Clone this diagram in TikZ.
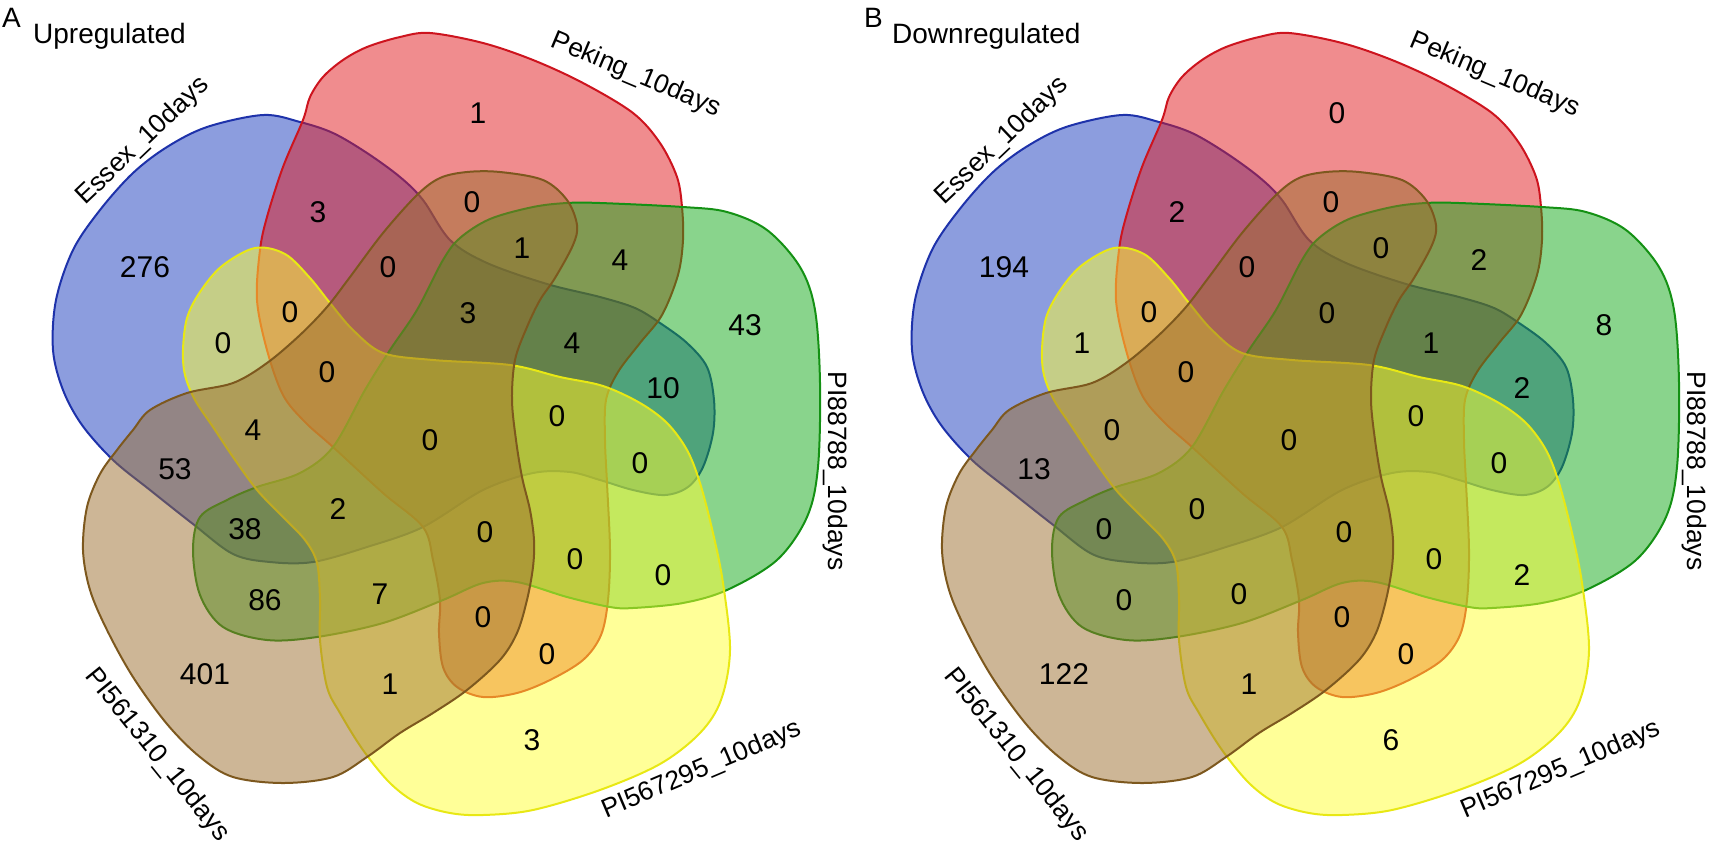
\documentclass[tikz,border=0pt]{standalone}
\usepackage{fontspec}
\setmainfont{Liberation Sans}
\definecolor{bluef}{RGB}{25,60,190}
\definecolor{bluel}{RGB}{30,50,170}
\definecolor{redf}{RGB}{225,25,30}
\definecolor{redl}{RGB}{205,20,30}
\definecolor{greenf}{RGB}{20,170,25}
\definecolor{greenl}{RGB}{20,145,20}
\definecolor{yellowf}{RGB}{255,255,50}
\definecolor{yellowl}{RGB}{232,232,20}
\definecolor{brownf}{RGB}{155,110,45}
\definecolor{brownl}{RGB}{125,88,30}
\tikzset{
  setshape/.style={line width=2pt, fill opacity=0.5, draw opacity=1},
  cnt/.style={font=\fontsize{30}{36}\selectfont, inner sep=0pt},
  setlabel/.style={font=\fontsize{26.5}{32}\selectfont, inner sep=0pt},
  ttl/.style={font=\fontsize{28}{34}\selectfont, inner sep=0pt, anchor=base west},
}
\newcommand{\vennshapes}{%
  \filldraw[setshape, fill=bluef, draw=bluel] plot[smooth cycle, tension=0.55] coordinates {
    (263,115) (300,122) (333,133) (367,153) (400,177) (423,200) (450,240) (487,263)
    (547,284) (600,297) (635,308) (660,323) (687,343) (707,367) (714,400) (713,433)
    (703,467) (688,487) (665,495) (633,490) (600,480) (570,472) (533,473) (483,490)
    (423,527) (367,547) (313,562) (270,562) (233,554) (193,524) (150,490) (113,460)
    (82,425) (63,390) (53,350) (56,300) (73,250) (100,210) (133,173) (167,147) (207,127)};
  \filldraw[setshape, fill=redf, draw=redl] plot[smooth cycle, tension=0.55] coordinates {
    (303,120) (310,97) (323,77) (343,60) (367,47) (400,37) (430,33) (483,43) (533,60)
    (583,83) (633,113) (660,143) (677,177) (682,207) (683,240) (678,275) (662,315)
    (640,343) (618,372) (606,400) (605,440) (607,483) (610,550) (608,600) (601,635)
    (583,660) (550,680) (517,693) (483,697) (457,687) (443,667) (439,633) (440,600)
    (433,560) (423,527) (383,493) (333,447) (305,422) (283,395) (267,350) (257,300)
    (260,250) (267,217) (283,167)};
  \filldraw[setshape, fill=greenf, draw=greenl] plot[smooth cycle, tension=0.55] coordinates {
    (567,203) (600,203) (683,207) (727,212) (767,230) (800,267) (815,310) (820,383)
    (818,467) (807,517) (777,560) (727,590) (683,603) (633,608) (610,607) (567,597)
    (517,582) (483,583) (443,600) (383,623) (317,637) (267,640) (223,627) (200,595)
    (193,550) (200,517) (227,500) (257,487) (300,473) (333,447) (365,390) (390,350)
    (417,310) (443,260) (460,238) (490,219) (533,207)};
  \filldraw[setshape, fill=yellowf, draw=yellowl] plot[smooth cycle, tension=0.55] coordinates {
    (183,350) (187,318) (200,292) (222,266) (255,248) (285,254) (310,278) (330,303)
    (353,330) (383,353) (433,360) (510,365) (560,377) (603,386) (640,403) (667,423)
    (687,450) (700,483) (713,533) (723,583) (730,650) (721,700) (700,733) (660,764)
    (600,790) (533,810) (483,815) (450,813) (417,803) (390,783) (363,750) (340,713)
    (327,687) (320,640) (320,600) (317,563) (305,540) (283,517) (257,490) (233,457)
    (213,427) (195,400) (185,375)};
  \filldraw[setshape, fill=brownf, draw=brownl] plot[smooth cycle, tension=0.55] coordinates {
    (133,430) (150,410) (187,393) (233,383) (267,363) (300,335) (327,307) (350,277)
    (383,233) (417,195) (440,178) (467,172) (500,172) (543,180) (567,200) (577,225)
    (573,245) (555,278) (540,300) (527,327) (515,360) (512,400) (516,440) (522,477)
    (530,510) (534,540) (533,567) (527,600) (517,633) (500,660) (467,690) (433,713)
    (400,733) (367,757) (333,777) (283,783) (233,777) (200,757) (167,724) (133,677)
    (107,630) (90,590) (83,550) (87,507) (100,474) (117,450)};
  \node[setlabel, rotate=43.5] (essex\panel) at (143,141) {Essex\_10days};
  \node[setlabel, rotate=-22.8] (peking\panel) at (636,75) {Peking\_10days};
  \node[setlabel, rotate=-90] (pie\panel) at (835,471) {PI88788\_10days};
  \node[setlabel, rotate=23] (pif\panel) at (702,770) {PI567295\_10days};
  \node[setlabel, rotate=-51] (pio\panel) at (157,755) {PI561310\_10days};
}
\begin{document}
\begin{tikzpicture}[x=1pt, y=-1pt]
\useasboundingbox (0,0) rectangle (1713,847);
% Panel A
\begin{scope}
  \def\panel{A}
  \vennshapes
  \node[ttl] (lettA) at (2,27) {A};
  \node[ttl] (titleA) at (33,43) {Upregulated};
  \foreach \px/\py/\v [count=\i] in {
    145/267/276, 318/212/3, 388/267/0, 223/343/0, 290/312/0, 327/372/0,
    478/113/1, 472/202/0, 522/248/1, 620/260/4, 745/325/43, 468/313/3,
    572/343/4, 663/388/10, 557/416/0, 253/430/4, 175/469/53, 338/509/2,
    245/529/38, 265/600/86, 380/594/7, 205/674/401, 390/684/1, 430/440/0,
    640/463/0, 485/532/0, 575/559/0, 663/575/0, 483/617/0, 547/654/0, 532/740/3}
    \node[cnt] (a\i) at (\px,\py) {\v};
\end{scope}
% Panel B
\begin{scope}[shift={(859,0)}]
  \def\panel{B}
  \vennshapes
  \node[ttl] (lettB) at (5,27) {B};
  \node[ttl] (titleB) at (33,43) {Downregulated};
  \foreach \px/\py/\v [count=\i] in {
    145/267/194, 318/212/2, 388/267/0, 223/343/1, 290/312/0, 327/372/0,
    478/113/0, 472/202/0, 522/248/0, 620/260/2, 745/325/8, 468/313/0,
    572/343/1, 663/388/2, 557/416/0, 253/430/0, 175/469/13, 338/509/0,
    245/529/0, 265/600/0, 380/594/0, 205/674/122, 390/684/1, 430/440/0,
    640/463/0, 485/532/0, 575/559/0, 663/575/2, 483/617/0, 547/654/0, 532/740/6}
    \node[cnt] (b\i) at (\px,\py) {\v};
\end{scope}
\end{tikzpicture}
\end{document}
